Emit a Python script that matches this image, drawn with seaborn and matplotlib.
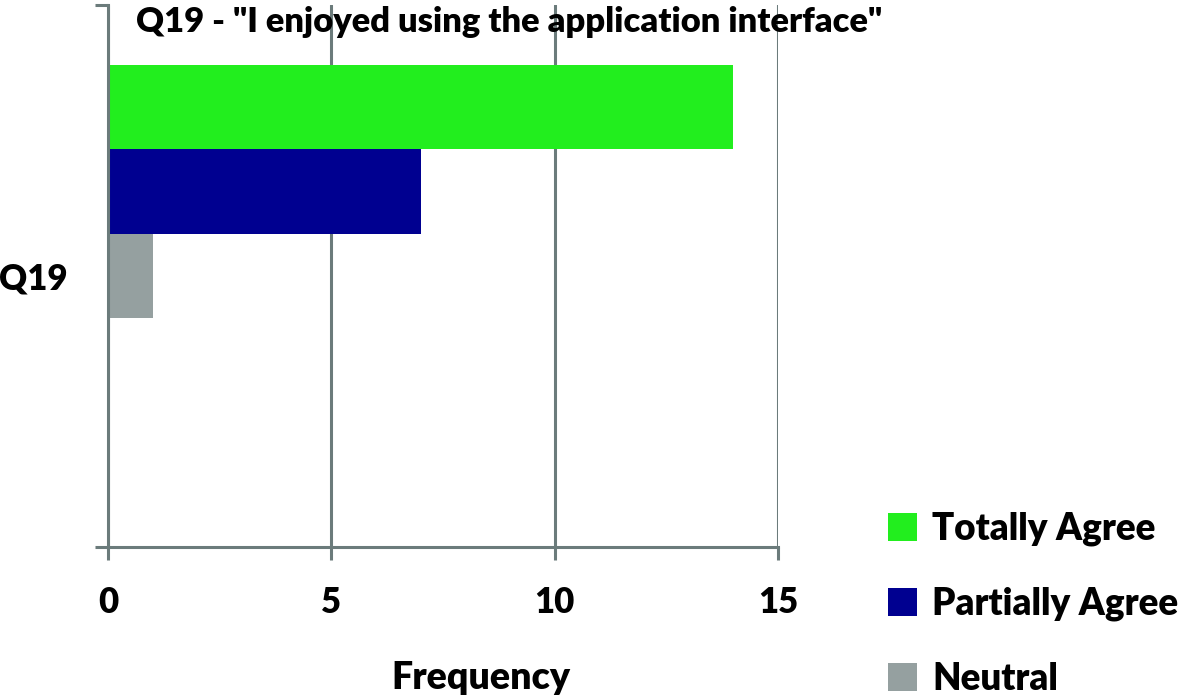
import pandas as pd
import matplotlib.pyplot as plt
import seaborn as sns
from matplotlib.patches import Patch

# 数据
categories = ["Q19"]
answers = ["Totally Agree", "Partially Agree", "Neutral", "Partially Disagree", "Totally Disagree"]
frequency = [14, 7, 1, 0, 0]
colors = ["#22EE1E", "#000090", "#95A0A0", "#B0B0B0", "#C0C0C0"]
xticks = [0, 5, 10, 15]

df = pd.DataFrame({
    "question": categories * len(answers),
    "answer": answers,
    "frequency": frequency,
})

sns.set_style("white")
plt.rcParams["font.family"] = ["Lato", "DejaVu Sans"]
plt.rcParams["font.weight"] = "heavy"
plt.rcParams["text.color"] = "black"
plt.rcParams["xtick.color"] = "black"
plt.rcParams["ytick.color"] = "black"
plt.rcParams["axes.labelcolor"] = "black"

line_col = "#6B7B7B"
fw = "heavy"

fig = plt.figure(figsize=(11.81, 6.98), dpi=100)
ax = fig.add_axes([108 / 1181, 1 - 547 / 698, 670 / 1181, 542 / 698])

sns.barplot(data=df, x="frequency", y="question", hue="answer", hue_order=answers,
            palette=colors, orient="h", width=0.78, saturation=1, linewidth=0,
            legend=False, ax=ax)

ax.set_xlim(0, 15)
ax.set_ylim(0.5, -0.5)
ax.set_xticks(xticks)
ax.set_xticklabels([str(t) for t in xticks], fontsize=25, fontweight=fw)
ax.set_yticks([0])
ax.set_yticklabels(categories, fontsize=25, fontweight=fw)
ax.set_yticks([-0.5, 0.5], minor=True)

ax.grid(axis="x", color=line_col, linewidth=2.2)
ax.set_axisbelow(True)
for s in ["top", "right"]:
    ax.spines[s].set_visible(False)
for s in ["left", "bottom"]:
    ax.spines[s].set_color(line_col)
    ax.spines[s].set_linewidth(2.2)

ax.tick_params(axis="x", which="major", direction="out", length=9, width=2.2,
               color=line_col, labelcolor="black", pad=19, bottom=True)
ax.tick_params(axis="y", which="major", length=0, pad=29, labelcolor="black")
ax.tick_params(axis="y", which="minor", direction="out", length=9.5, width=2.2,
               color=line_col, left=True)

ax.set_ylabel("")
ax.set_xlabel("Frequency", fontsize=27, fontweight=fw, color="black")
ax.xaxis.set_label_coords(0.557, -0.242)
ax.xaxis.label.set_va("center")

fig.text(136 / 1181, 1 - 22 / 698, 'Q19 - "I enjoyed using the application interface"',
         fontsize=24.8, fontweight=fw, va="center", ha="left", color="black")

# 图例（只显示前三项）
handles = [Patch(facecolor=c, edgecolor="none") for c in colors[:3]]
fig.legend(handles, answers[:3], loc="upper left", bbox_to_anchor=(888 / 1181, 1 - 512 / 698),
           frameon=False, prop={"weight": fw, "size": 26.5},
           handlelength=0.8, handleheight=0.8, handletextpad=0.4, labelspacing=1.1,
           borderaxespad=0, borderpad=0)

fig.savefig("out.png", dpi=100)
